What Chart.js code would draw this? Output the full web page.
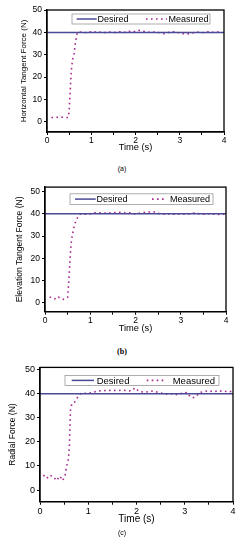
<!DOCTYPE html>
<html>
<head>
<meta charset="utf-8">
<script src="https://cdn.jsdelivr.net/npm/chart.js@4.4.1/dist/chart.umd.min.js"></script>
<style>
body { margin: 0; background: #fff; width: 244px; height: 550px; position: relative; overflow: hidden; }
canvas { position: absolute; left: 0; }
.cap { position: absolute; left: 0; width: 244px; text-align: center; color: #000; }
</style>
</head>
<body>
<canvas id="chartA" width="244" height="160" style="top:0px"></canvas>
<div class="cap" style="top:165px;font:7px 'Liberation Sans',Arial,sans-serif">(a)</div>
<canvas id="chartB" width="244" height="160" style="top:180px"></canvas>
<div class="cap" style="top:347px;font:bold 8px 'Liberation Serif',serif">(b)</div>
<canvas id="chartC" width="244" height="172" style="top:360px"></canvas>
<div class="cap" style="top:529px;font:7px 'Liberation Sans',Arial,sans-serif">(c)</div>
<script>
// data
const seriesLabels = ['Desired', 'Measured'];
const desiredTime = [0, 4];
const desiredForce = [40, 40];
const xTicks = [0, 0.5, 1, 1.5, 2, 2.5, 3, 3.5, 4];
const yTicks = [0, 10, 20, 30, 40, 50];

const timeA = [0.1, 0.2, 0.3, 0.4, 0.48, 0.5, 0.52, 0.54, 0.56, 0.58, 0.61, 0.64, 0.665, 0.685, 0.75, 0.85, 0.95, 1.05, 1.15, 1.25, 1.35, 1.45, 1.55, 1.65, 1.75, 1.85, 1.95, 2.05, 2.15, 2.25, 2.35, 2.45, 2.55, 2.65, 2.75, 2.85, 2.95, 3.05, 3.15, 3.25, 3.35, 3.45, 3.55, 3.65, 3.75, 3.85, 3.95];
const forceA = [2, 2, 2.2, 2, 2, 5, 12, 20, 25, 28, 30, 35, 38, 40, 40.2, 39.8, 40.3, 40, 40.4, 39.8, 40, 40.2, 39.9, 40.3, 40, 40.5, 40.2, 41, 40.6, 40.3, 40, 40.2, 39.8, 39.4, 40, 40.3, 40, 39.5, 39.2, 39.6, 40, 40.2, 39.8, 40.3, 40, 40.2, 40.5];

const timeB = [0.1, 0.15, 0.2, 0.25, 0.3, 0.35, 0.4, 0.45, 0.5, 0.52, 0.54, 0.56, 0.58, 0.6, 0.63, 0.66, 0.7, 0.75, 0.8, 0.9, 1.0, 1.1, 1.2, 1.3, 1.4, 1.5, 1.6, 1.7, 1.8, 1.9, 2.0, 2.1, 2.2, 2.3, 2.4, 2.5, 2.6, 2.7, 2.8, 2.9, 3.0, 3.1, 3.2, 3.3, 3.4, 3.5, 3.6, 3.7, 3.8, 3.9, 4.0];
const forceB = [2.5, 2.5, 2, 1.5, 2.5, 2, 1.5, 2, 2.5, 8, 15, 22, 27, 30, 33, 35.5, 37.5, 39.5, 40, 39.8, 40, 40.5, 40.5, 40.3, 40.5, 40.3, 40.8, 40.5, 40.3, 40.5, 39.8, 40.3, 40.6, 40.8, 40.9, 40.2, 39.8, 40, 39.9, 39.7, 40, 39.8, 40, 40.3, 40, 39.8, 40, 39.9, 39.7, 39.8, 39.8];

const timeC = [0.07, 0.14, 0.2, 0.28, 0.34, 0.41, 0.47, 0.52, 0.55, 0.59, 0.61, 0.62, 0.63, 0.66, 0.72, 0.77, 0.83, 0.9, 1.0, 1.1, 1.2, 1.3, 1.4, 1.5, 1.6, 1.7, 1.8, 1.9, 1.97, 2.05, 2.15, 2.25, 2.35, 2.45, 2.55, 2.65, 2.75, 2.85, 2.95, 3.05, 3.12, 3.18, 3.24, 3.3, 3.4, 3.5, 3.6, 3.7, 3.8, 3.9, 4.0];
const forceC = [6.2, 4.8, 6.2, 5.5, 3.9, 5.8, 3.9, 6.2, 9.7, 13, 19, 26, 33, 36, 36.6, 38.3, 40, 40.3, 40.2, 40.6, 41.2, 41.4, 41.3, 41.5, 41.3, 41.6, 41.4, 41.2, 42.5, 41, 40.7, 40.9, 41.2, 40.6, 40.2, 39.8, 40.1, 39.6, 40.3, 40.6, 38.6, 38.4, 39, 40.5, 41, 41.3, 40.8, 41.4, 40.9, 41.2, 40.7];

const desiredColor = '#4a4a98';
const measuredColor = '#a8288e';
const fontFamily = "'Liberation Sans', Arial, sans-serif";

// box round the plot + legend inside it
const frameLegend = {
  id: 'frameLegend',
  afterDatasetsDraw(chart, args, o) {
    const { ctx, chartArea: a } = chart;
    ctx.save();
    ctx.strokeStyle = '#000';
    ctx.lineWidth = 1.3;
    ctx.strokeRect(a.left, a.top, a.right - a.left, a.bottom - a.top);

    const x = a.left + o.x, y = a.top + o.y;
    ctx.fillStyle = '#fff';
    ctx.fillRect(x, y, o.w, o.h);
    ctx.strokeStyle = '#999';
    ctx.lineWidth = 0.8;
    ctx.strokeRect(x, y, o.w, o.h);

    const midY = y + o.h / 2;
    const ds = chart.data.datasets;
    ctx.lineWidth = 1.5;
    ctx.strokeStyle = ds[0].borderColor;
    ctx.beginPath();
    ctx.moveTo(x + o.line[0], midY);
    ctx.lineTo(x + o.line[1], midY);
    ctx.stroke();

    ctx.strokeStyle = ds[1].borderColor;
    ctx.lineWidth = ds[1].borderWidth;
    ctx.setLineDash(ds[1].borderDash);
    ctx.beginPath();
    ctx.moveTo(x + o.dots[0], midY);
    ctx.lineTo(x + o.dots[1], midY);
    ctx.stroke();
    ctx.setLineDash([]);

    ctx.fillStyle = '#000';
    ctx.font = o.font + 'px ' + fontFamily;
    ctx.textBaseline = 'middle';
    ctx.fillText(ds[0].label, x + o.text1, midY + 0.5);
    ctx.fillText(ds[1].label, x + o.text2, midY + 0.5);
    ctx.restore();
  }
};

function makePanel(id, time, force, p) {
  const canvas = document.getElementById(id);
  const H = canvas.height;
  const xTitleLH = p.xTitleSize * 1.2;
  const yTitleLH = p.yTitleSize * 1.2;
  return new Chart(canvas, {
    type: 'line',
    data: {
      datasets: [{
        label: seriesLabels[0],
        data: desiredTime.map((t, i) => ({ x: t, y: desiredForce[i] })),
        borderColor: desiredColor,
        borderWidth: 1.5,
        pointRadius: 0
      }, {
        label: seriesLabels[1],
        data: time.map((t, i) => ({ x: t, y: force[i] })),
        borderColor: measuredColor,
        borderWidth: 1.6,
        borderDash: [1.6, 3.4],
        pointRadius: 0
      }]
    },
    options: {
      responsive: false,
      animation: false,
      layout: { padding: { top: p.top, right: p.right, left: 0, bottom: 0 } },
      plugins: {
        legend: { display: false },
        tooltip: { enabled: false },
        frameLegend: p.legend
      },
      scales: {
        x: {
          type: 'linear',
          min: 0,
          max: 4,
          afterBuildTicks: axis => { axis.ticks = xTicks.map(v => ({ value: v })); },
          afterFit: axis => { axis.height = H - p.bottom; },
          grid: { drawOnChartArea: false, tickLength: 3, color: '#000' },
          border: { display: true, color: '#000', width: 1.3 },
          ticks: {
            color: '#000',
            padding: 1,
            maxRotation: 0,
            autoSkip: false,
            font: { family: fontFamily, size: p.tickSize },
            callback: v => (Number.isInteger(v) ? v : '')
          },
          title: {
            display: true,
            text: 'Time (s)',
            color: '#000',
            font: { family: fontFamily, size: p.xTitleSize },
            padding: { top: 0, bottom: H - p.xTitleY - xTitleLH / 2 }
          }
        },
        y: {
          min: p.yMin,
          max: p.yMax,
          afterBuildTicks: axis => { axis.ticks = yTicks.map(v => ({ value: v })); },
          afterFit: axis => { axis.width = p.left; },
          grid: { drawOnChartArea: false, tickLength: 3, color: '#000' },
          border: { display: true, color: '#000', width: 1.3 },
          ticks: {
            color: '#000',
            padding: 2,
            font: { family: fontFamily, size: p.tickSize }
          },
          title: {
            display: true,
            text: p.yTitle,
            color: '#000',
            font: { family: fontFamily, size: p.yTitleSize },
            padding: { top: p.yTitleX - yTitleLH / 2, bottom: 0 }
          }
        }
      }
    },
    plugins: [frameLegend]
  });
}

makePanel('chartA', timeA, forceA, {
  left: 47, right: 20, top: 10, bottom: 132,
  yMin: -4.5, yMax: 50,
  tickSize: 8.5, xTitleSize: 9.3, xTitleY: 147,
  yTitle: 'Horizontal Tangent Force (N)', yTitleSize: 8, yTitleX: 24,
  legend: { x: 25, y: 4, w: 138, h: 10, line: [4.7, 24.7], text1: 25.5, dots: [74, 95], text2: 96.5, font: 9 }
});

makePanel('chartB', timeB, forceB, {
  left: 45, right: 18, top: 6, bottom: 131.7,
  yMin: -4, yMax: 52,
  tickSize: 8.5, xTitleSize: 9.3, xTitleY: 148.3,
  yTitle: 'Elevation Tangent Force (N)', yTitleSize: 8.5, yTitleX: 20,
  legend: { x: 25, y: 6.7, w: 143, h: 10.6, line: [5, 25.7], text1: 26.5, dots: [82, 97], text2: 100, font: 9 }
});

makePanel('chartC', timeC, forceC, {
  left: 40, right: 11, top: 7, bottom: 141.7,
  yMin: -4.85, yMax: 51,
  tickSize: 9, xTitleSize: 10, xTitleY: 159.3,
  yTitle: 'Radial Force (N)', yTitleSize: 8.5, yTitleX: 13,
  legend: { x: 25, y: 8, w: 154, h: 10, line: [6.7, 29], text1: 31.7, dots: [81.7, 100], text2: 107.7, font: 9.5 }
});
</script>
</body>
</html>
